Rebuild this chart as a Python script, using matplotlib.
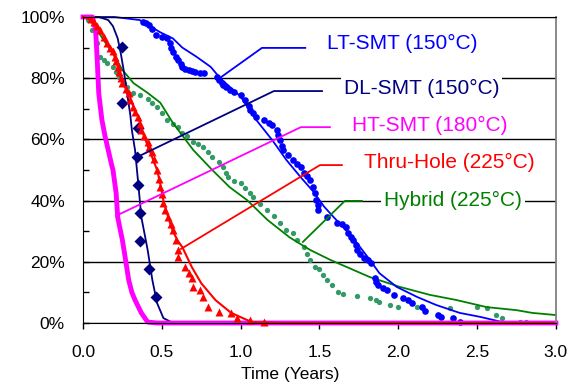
import matplotlib.pyplot as plt
from matplotlib.ticker import MultipleLocator, FuncFormatter

plt.rcParams['font.family'] = ['Liberation Sans', 'DejaVu Sans']

# === data: time (years) vs. survival (%) ===
# LT-SMT (150°C)
lt_fit_t = [0, 0.2, 0.36, 0.49, 0.57, 0.63, 0.72, 0.81, 0.87, 1.0, 1.1, 1.2, 1.29, 1.38, 1.46,
            1.53, 1.59, 1.71, 1.82, 1.88, 1.99, 2.12, 2.24, 2.39, 2.52, 2.66, 3.0]
lt_fit_p = [100, 100, 99, 95, 93, 90, 87, 83.7, 80, 74, 66.3, 59.8, 53.3, 47.7, 43,
            38, 34.6, 28, 20.6, 16.3, 11.8, 8.5, 5.9, 3.3, 2, 0.3, 0.3]
lt_obs_t = [0.38, 0.40, 0.42, 0.44, 0.46, 0.50, 0.53, 0.55, 0.56, 0.57, 0.59, 0.60, 0.62, 0.63, 0.65,
            0.67, 0.69, 0.71, 0.74, 0.77, 0.85, 0.86, 0.88, 0.89, 0.91, 0.93, 0.96, 1.0, 1.03, 1.05,
            1.06, 1.08, 1.10, 1.15, 1.18, 1.20, 1.23, 1.24, 1.25, 1.26, 1.27, 1.30, 1.33, 1.36, 1.38,
            1.40, 1.42, 1.44, 1.46, 1.47, 1.48, 1.49, 1.49, 1.55, 1.61, 1.64, 1.67, 1.68, 1.70, 1.71,
            1.73, 1.74, 1.76, 1.78, 1.81, 1.83, 1.85, 1.86, 1.87, 1.90, 1.93, 1.97, 2.03, 2.06, 2.09,
            2.15, 2.17, 2.25, 2.27, 2.35, 2.39]
lt_obs_p = [98.4, 98, 97.4, 96, 94, 93.5, 93, 91.5, 90, 88.6, 87, 86, 84.5, 83.7, 83,
            82.7, 82.3, 82, 81.7, 81.7, 80.4, 79.5, 78.5, 77.8, 77, 76, 75.5, 74.5, 72.9, 71,
            69.6, 68.5, 67.3, 66.3, 65.5, 64.7, 63, 61.5, 59.8, 58, 56.5, 55, 53.3, 52, 51,
            49, 48, 46.7, 44.4, 42.5, 40.2, 38.5, 37, 34.5, 32.7, 32.5, 31.5, 29.4, 28, 27,
            25.5, 23.9, 22.5, 21.2, 20.5, 19.6, 14.7, 13.5, 12.4, 11.5, 10.8, 9.2, 8.2, 7.5, 6.5,
            5.2, 3.9, 2.6, 2, 1.6, 0.3]

# DL-SMT (150°C)
dl_fit_t = [0, 0.10, 0.16, 0.19, 0.22, 0.24, 0.26, 0.28, 0.30, 0.31, 0.33, 0.35, 0.37, 0.41, 0.44,
            0.47, 0.51, 0.56, 3.0]
dl_fit_p = [100, 100, 99, 97, 93, 88, 82, 75, 68, 63, 56.5, 45.8, 34.6, 23.9, 14,
            6.5, 1.6, 0.3, 0.3]
dl_obs_t = [0.25, 0.25, 0.35, 0.34, 0.35, 0.36, 0.36, 0.42, 0.46]
dl_obs_p = [90.2, 72, 63.7, 54.2, 45, 36, 26.8, 17.6, 8.5]

# HT-SMT (180°C)
ht_t = [0, 0.06, 0.08, 0.09, 0.10, 0.12, 0.14, 0.16, 0.18, 0.19, 0.21, 0.22, 0.25, 0.27, 0.29,
        0.31, 0.33, 0.37, 0.41, 0.47, 3.0]
ht_p = [100, 100, 95.8, 86, 75, 66.3, 61, 56.5, 52, 50, 42.5, 34.6, 27, 20.6, 14,
        10, 7.5, 3.3, 0.3, 0, 0]

# Thru-Hole (225°C)
th_fit_t = [0, 0.06, 0.11, 0.15, 0.19, 0.22, 0.25, 0.29, 0.32, 0.35, 0.38, 0.41, 0.44, 0.47, 0.49,
            0.51, 0.54, 0.57, 0.60, 0.63, 0.69, 0.75, 0.84, 0.94, 1.07, 1.25, 3.0]
th_fit_p = [100, 99, 95.8, 91.5, 89, 83.7, 78.4, 75, 70.6, 67.3, 62, 58, 54, 50, 45.5,
            40, 34.6, 30, 27, 24.8, 18.3, 13, 7.5, 3.3, 0.3, 0, 0]
th_obs_t = [0.05, 0.07, 0.09, 0.11, 0.13, 0.15, 0.17, 0.19, 0.20, 0.21, 0.22, 0.23, 0.24, 0.25, 0.27,
            0.29, 0.30, 0.32, 0.33, 0.35, 0.36, 0.37, 0.39, 0.41, 0.42, 0.44, 0.45, 0.47, 0.48, 0.49,
            0.50, 0.51, 0.52, 0.54, 0.56, 0.57, 0.59, 0.60, 0.60, 0.65, 0.67, 0.69, 0.70, 0.74, 0.76,
            0.79, 0.86, 0.94, 0.98, 1.06, 1.15]
th_obs_p = [99.5, 98.5, 97, 95.8, 93.5, 91.5, 90, 89, 87, 85.5, 83.7, 82, 80, 78.4, 76.5,
            75, 73, 70.6, 69, 67.3, 65, 63, 61, 59, 57.5, 56, 53.5, 50, 47, 44.4,
            42, 39.2, 37, 34.6, 32.5, 30.4, 27, 23.9, 21.6, 18.3, 16.5, 14.7, 11.8, 10.8, 8.5,
            5.2, 3.6, 3.3, 1.6, 1, 0.3]

# Hybrid (225°C)
hy_fit_t = [0, 0.03, 0.06, 0.13, 0.19, 0.25, 0.32, 0.41, 0.49, 0.57, 0.70, 0.82, 0.93, 1.04, 1.17,
            1.31, 1.44, 1.57, 1.82, 2.01, 2.20, 2.37, 2.56, 2.75, 2.85, 3.0]
hy_fit_p = [100, 99.5, 98, 92.5, 88, 82.7, 78.4, 75.2, 72, 65.4, 56.5, 50, 44.4, 40.2, 33.7,
            28, 23.9, 20.6, 15, 11.8, 9.2, 7.5, 5.2, 4.2, 3.3, 2.6]
hy_obs_t = [0.03, 0.06, 0.09, 0.11, 0.13, 0.15, 0.19, 0.21, 0.23, 0.26, 0.28, 0.32, 0.36, 0.41, 0.44,
            0.47, 0.50, 0.53, 0.57, 0.60, 0.63, 0.66, 0.70, 0.73, 0.76, 0.79, 0.82, 0.86, 0.89, 0.91,
            0.92, 0.96, 1.0, 1.03, 1.06, 1.08, 1.12, 1.17, 1.21, 1.25, 1.29, 1.33, 1.36, 1.40, 1.42,
            1.44, 1.47, 1.50, 1.52, 1.55, 1.58, 1.62, 1.65, 1.74, 1.82, 1.86, 1.88, 1.95, 2.0, 2.12,
            2.33, 2.50, 2.56, 2.62, 2.66, 2.77, 2.81]
hy_obs_p = [99, 95.8, 91.5, 87, 86, 85, 83.7, 82, 80.4, 78.5, 77, 75, 74.5, 73.3, 72,
            70.6, 68.5, 66.3, 65, 64, 62, 61, 59.2, 58.5, 57.5, 56, 54.2, 52.5, 51, 49,
            47.7, 46.5, 45.8, 44, 42.5, 41.2, 39, 37, 35, 32.7, 30.5, 29.4, 27, 24.8, 22.5,
            20.6, 18.3, 17.5, 15.7, 14, 12.4, 10.1, 9.5, 8.8, 8.2, 7.5, 6.9, 6, 5.2, 5.2,
            4.9, 5.2, 4.9, 2.6, 1.6, 0.3, 0.3]

labels = ["LT-SMT (150°C)", "DL-SMT (150°C)", "HT-SMT (180°C)", "Thru-Hole (225°C)", "Hybrid (225°C)"]

# === plot ===
fig = plt.figure(figsize=(5.69, 3.88), dpi=100)
ax = fig.add_axes([0.1459, 0.1675, 0.8311, 0.7887])

c_lt, c_dl, c_ht, c_th, c_hy, c_hyd = "#0000FF", "#000080", "#FF00FF", "#FF0000", "#008000", "#339966"

ax.plot(hy_obs_t, hy_obs_p, "o", color=c_hyd, ms=3.8, mec="none", clip_on=False)
ax.plot(hy_fit_t, hy_fit_p, "-", color=c_hy, lw=1.3, clip_on=False)
ax.plot(lt_obs_t, lt_obs_p, "o", color=c_lt, ms=4.8, mec="none", clip_on=False)
ax.plot(lt_fit_t, lt_fit_p, "-", color=c_lt, lw=1.3, clip_on=False)
ax.plot(dl_fit_t, dl_fit_p, "-", color=c_dl, lw=1.3, clip_on=False)
ax.plot(dl_obs_t, dl_obs_p, "D", color=c_dl, ms=6.5, mec="none", clip_on=False)
ax.plot(ht_t, ht_p, "-", color=c_ht, lw=3.5, clip_on=False)
ax.plot(th_fit_t, th_fit_p, "-", color=c_th, lw=1.5, clip_on=False)
ax.plot(th_obs_t, th_obs_p, "^", color=c_th, ms=5.5, mec="none", clip_on=False)

# leader lines + labels: (anchor, elbow, end, text position)
layout = [
    ((0.85, 79.4), (1.135, 89.9), (1.41, 89.9), (1.547, 91.2), c_lt),
    ((0.342, 54.2), (1.211, 75.8), (1.516, 75.8), (1.655, 76.8), c_dl),
    ((0.209, 35.0), (1.382, 64.0), (1.566, 64.0), (1.706, 64.4), c_ht),
    ((0.621, 24.2), (1.503, 51.6), (1.642, 51.6), (1.782, 52.6), c_th),
    ((1.395, 26.5), (1.661, 39.9), (1.769, 39.9), (1.909, 40.2), c_hy),
]
for lab, (a, e, f, tp, col) in zip(labels, layout):
    ax.plot([a[0], e[0], f[0]], [a[1], e[1], f[1]], color=col, lw=1.3)
    ax.text(tp[0], tp[1], lab, color=col, fontsize=15, va="center", ha="left",
            bbox=dict(facecolor="white", edgecolor="none", pad=2), zorder=5)

ax.set_xlim(0, 3.0)
ax.set_ylim(0, 100)
ax.xaxis.set_major_locator(MultipleLocator(0.5))
ax.xaxis.set_major_formatter(FuncFormatter(lambda v, _: f"{v:.1f}"))
ax.yaxis.set_major_locator(MultipleLocator(20))
ax.yaxis.set_minor_locator(MultipleLocator(10))
ax.yaxis.set_major_formatter(FuncFormatter(lambda v, _: f"{v:.0f}%"))
ax.tick_params(axis="x", labelsize=12.5, direction="out", length=4, width=1, pad=12)
ax.tick_params(axis="y", which="both", labelsize=12.5, direction="in", length=4, width=1, pad=13)
ax.grid(axis="y", which="major", color="black", lw=1)
for s in ["left", "bottom", "top"]:
    ax.spines[s].set_color("black")
ax.spines["right"].set_color("#808080")
ax.spines["right"].set_linewidth(1.3)

fig.text(290 / 569, 1 - 375 / 388, "Time (Years)", fontsize=12.5, ha="center", va="center")

plt.savefig("out.png", dpi=100)
plt.close()
